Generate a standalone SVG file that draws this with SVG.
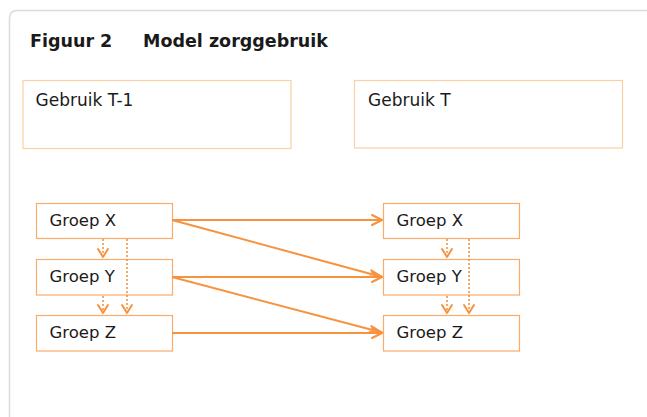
<svg xmlns="http://www.w3.org/2000/svg" width="647" height="417" viewBox="0 0 647 417">
<defs>
<style>
.t{font-family:"DejaVu Sans","Liberation Sans",sans-serif;fill:#1a1a1a}
.title{font-size:17.5px;font-weight:bold}
.lbl{font-size:17px}
.g{font-size:16.5px}
.hdr{fill:#fff;stroke:#fdcfa3;stroke-width:1.2}
.box{fill:#fff;stroke:#f9ab6c;stroke-width:1.2}
.solid{stroke:#f7923f;stroke-width:2;fill:none}
.dot{stroke:#f7923f;stroke-width:1.6;stroke-dasharray:2 2;fill:none}
.head{stroke:#f7923f;stroke-width:2;fill:none;stroke-linecap:round;stroke-linejoin:round}
</style>
</defs>
<rect width="647" height="417" fill="#fff"/>
<path d="M9.5 417 V18 Q9.5 10.5 17.5 10.5 H647" fill="none" stroke="#dcdcdc" stroke-width="1.5"/>
<text class="t title" x="30" y="47">Figuur 2</text>
<text class="t title" x="143" y="47">Model zorggebruik</text>
<g id="gebruik-t1"><rect class="hdr" x="23" y="80.5" width="268" height="68"/><text class="t lbl" x="35.5" y="106">Gebruik T-1</text></g>
<g id="gebruik-t"><rect class="hdr" x="354.5" y="80.5" width="268" height="67.5"/><text class="t lbl" x="368" y="106">Gebruik T</text></g>
<g id="l-x"><rect class="box" x="36.5" y="203.5" width="136" height="35"/><text class="t g" x="49.5" y="226">Groep X</text></g>
<g id="l-y"><rect class="box" x="36.5" y="259.5" width="136" height="35.5"/><text class="t g" x="49.5" y="282">Groep Y</text></g>
<g id="l-z"><rect class="box" x="36.5" y="315.5" width="136" height="35.5"/><text class="t g" x="49.5" y="338">Groep Z</text></g>
<g id="r-x"><rect class="box" x="383.5" y="203.5" width="136" height="35"/><text class="t g" x="396.5" y="226">Groep X</text></g>
<g id="r-y"><rect class="box" x="383.5" y="259.5" width="136" height="35.5"/><text class="t g" x="396.5" y="282">Groep Y</text></g>
<g id="r-z"><rect class="box" x="383.5" y="315.5" width="136" height="35.5"/><text class="t g" x="396.5" y="338">Groep Z</text></g>
<g id="connectors">
<line class="solid" x1="172" y1="220" x2="382" y2="220"/>
<path class="head" d="M372 215 L382 220 L372 225"/>
<line class="solid" x1="172" y1="220" x2="382" y2="277"/>
<path class="head" d="M371.3 270.4 L382 277 L369.6 276.5"/>
<line class="solid" x1="172" y1="277" x2="382" y2="277"/>
<path class="head" d="M372 272 L382 277 L372 282"/>
<line class="solid" x1="172" y1="277" x2="382" y2="332.5"/>
<path class="head" d="M371.3 326 L382 332.5 L369.6 332"/>
<line class="solid" x1="172" y1="333" x2="382" y2="333"/>
<path class="head" d="M372 328 L382 333 L372 338"/>
<line class="dot" x1="103" y1="239" x2="103" y2="257"/>
<path class="head" d="M98 249 L103 257 L108 249"/>
<line class="dot" x1="103" y1="296" x2="103" y2="313"/>
<path class="head" d="M98 305 L103 313 L108 305"/>
<line class="dot" x1="127" y1="239" x2="127" y2="313"/>
<path class="head" d="M122 305 L127 313 L132 305"/>
<line class="dot" x1="447" y1="239" x2="447" y2="257"/>
<path class="head" d="M442 249 L447 257 L452 249"/>
<line class="dot" x1="447" y1="296" x2="447" y2="313"/>
<path class="head" d="M442 305 L447 313 L452 305"/>
<line class="dot" x1="469" y1="239" x2="469" y2="313"/>
<path class="head" d="M464 305 L469 313 L474 305"/>
</g>
</svg>
